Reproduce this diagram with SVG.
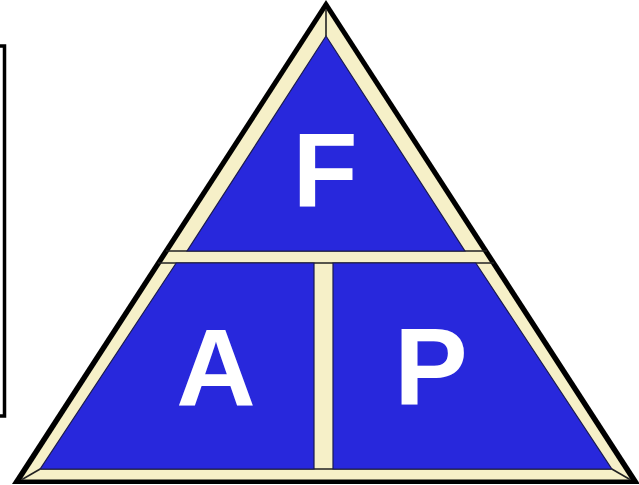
<svg xmlns="http://www.w3.org/2000/svg" width="639" height="485" viewBox="0 0 639 485">
<style>
.blue{fill:#2828DC;stroke:#1a1a50;stroke-width:1.2}
.ln{stroke:#222;stroke-width:1.6;fill:none}
.lbl{font-family:"Liberation Sans",Arial,sans-serif;font-weight:bold;fill:#fff;text-anchor:middle}
</style>
<rect x="0" y="0" width="639" height="485" fill="#fff"/>
<g id="bracket"><rect x="-10" y="46" width="14.5" height="370" fill="none" stroke="#000" stroke-width="3.5"/></g>
<g id="frame">
<polygon points="326,0 12,484 640,484" fill="#000"/>
<polygon points="326,9 21.5,479.5 630.5,479.5" fill="#F6F0C8"/>
</g>
<g id="connectors">
<line class="ln" x1="326" y1="9" x2="326" y2="36"/>
<line class="ln" x1="22" y1="479.5" x2="40.2" y2="469"/>
<line class="ln" x1="630" y1="479.5" x2="611.8" y2="469"/>
<line class="ln" x1="166" y1="251" x2="487" y2="251"/>
<line class="ln" x1="158" y1="263" x2="494" y2="263"/>
<line class="ln" x1="40.2" y1="469" x2="611.8" y2="469"/>
</g>
<g id="nodeF">
<polygon class="blue" points="326,36 187.1,251 464.9,251"/>
<text class="lbl" x="325" y="207" font-size="106">F</text>
</g>
<g id="nodeA">
<polygon class="blue" points="176.2,263 314,263 314,469 40.2,469"/>
<text class="lbl" x="216" y="405" font-size="110">A</text>
</g>
<g id="nodeP">
<polygon class="blue" points="333,263 475.8,263 611.8,469 333,469"/>
<text class="lbl" x="431" y="405" font-size="110">P</text>
</g>
</svg>
